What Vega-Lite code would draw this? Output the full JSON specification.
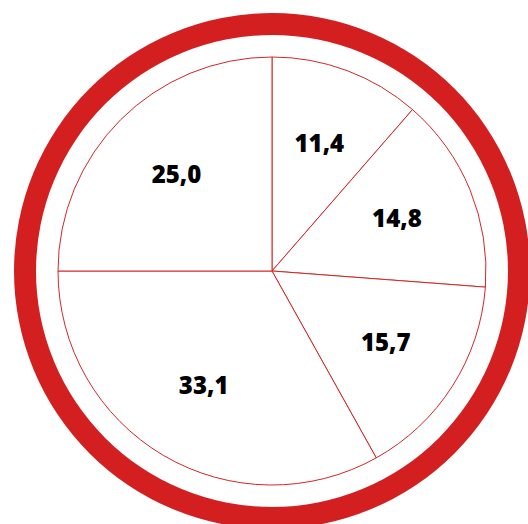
{
  "$schema": "https://vega.github.io/schema/vega-lite/v6.json",
  "width": 512,
  "height": 506,
  "autosize": {"type": "none"},
  "padding": {"left": 16, "top": 18, "right": 0, "bottom": 0},
  "background": "white",
  "config": {
    "view": {"stroke": null},
    "locale": {"number": {"decimal": ",", "thousands": ".", "grouping": [3], "currency": ["", ""]}}
  },
  "data": {"values": [
    {"k": 1, "v": 11.4},
    {"k": 2, "v": 14.8},
    {"k": 3, "v": 15.7},
    {"k": 4, "v": 33.1},
    {"k": 5, "v": 25.0}
  ]},
  "layer": [
    {
      "data": {"values": [{"ring": 1}]},
      "mark": {"type": "arc", "radius": 258, "radius2": 236, "theta": 0, "theta2": 6.2832, "fill": "#D31F1F"},
      "encoding": {}
    },
    {
      "mark": {"type": "arc", "radius": 214, "fill": "white", "stroke": "#D42626", "strokeWidth": 1},
      "encoding": {
        "theta": {"field": "v", "type": "quantitative", "stack": true},
        "order": {"field": "k", "type": "quantitative"}
      }
    },
    {
      "mark": {"type": "text", "radius": 135, "font": "Open Sans", "fontWeight": 800, "fontSize": 24, "letterSpacing": 1, "color": "black"},
      "encoding": {
        "theta": {"field": "v", "type": "quantitative", "stack": true},
        "order": {"field": "k", "type": "quantitative"},
        "text": {"field": "v", "type": "quantitative", "format": ".1f"}
      }
    }
  ]
}
